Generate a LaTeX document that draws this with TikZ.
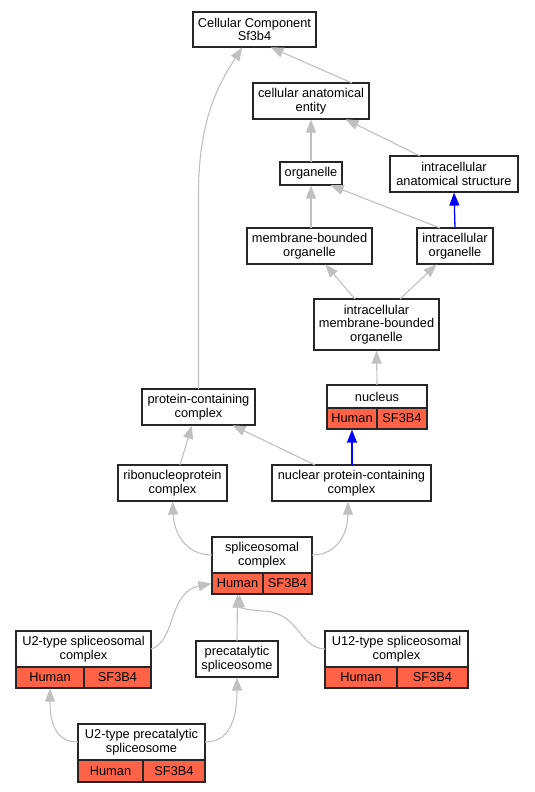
\documentclass[tikz,border=0pt]{standalone}
\usepackage{fontspec}
\setmainfont{Liberation Sans}
\usetikzlibrary{arrows.meta,positioning}
\definecolor{isagray}{HTML}{C0C0C0}
\definecolor{genered}{HTML}{FF6347}
\tikzset{
    term/.style={draw=black!85, line width=1.2pt, fill=white, align=center,
    	inner sep=0pt, outer sep=0pt, font=\fontsize{12.8}{13.5}\selectfont},
    gene/.style={term, fill=genered, minimum height=21pt, anchor=north west}
}
\tikzset{
    isa/.style={draw=isagray, line width=1.1pt, shorten >=0.6pt,
    	-{Triangle[length=13pt,width=10pt,fill=isagray]}},
    partof/.style={draw=blue, line width=1.3pt, shorten >=0.6pt,
    	-{Triangle[length=13pt,width=10pt,fill=blue]}}
}

\begin{document}
\begin{tikzpicture}[x=1pt,y=-1pt]
	\useasboundingbox (0,0) rectangle (535,792);
	\node[term, minimum width=123pt, minimum height=35pt] (cc) at (254.5,29.5) {Cellular Component\\Sf3b4};
	\node[term, minimum width=116pt, minimum height=36pt] (cae) at (311,101) {cellular anatomical\\entity};
	\node[term, minimum width=62pt, minimum height=23pt] (org) at (311,173.5) {organelle};
	\node[term, minimum width=128pt, minimum height=36pt] (ias) at (454,174) {intracellular\\anatomical structure};
	\node[term, minimum width=125pt, minimum height=36pt] (mbo) at (309.5,246) {membrane-bounded\\organelle};
	\node[term, minimum width=76pt, minimum height=36pt] (io) at (455,246) {intracellular\\organelle};
	\node[term, minimum width=125pt, minimum height=51pt] (imbo) at (376.5,324.5) {intracellular\\membrane-bounded\\organelle};
	\node[term, minimum width=100pt, minimum height=23pt] (nuc) at (377,396.5) {nucleus};
	\node[gene, minimum width=50pt] (nucH) at (nuc.south west) {Human};
	\node[gene, minimum width=50pt] (nucS) at (nucH.north east) {SF3B4};
	\node[term, minimum width=113pt, minimum height=36pt] (pcc) at (198.5,407) {protein-containing\\complex};
	\node[term, minimum width=109pt, minimum height=36pt] (rnp) at (172.5,483) {ribonucleoprotein\\complex};
	\node[term, minimum width=159pt, minimum height=36pt] (npc) at (351.5,483) {nuclear protein-containing\\complex};
	\node[term, minimum width=100pt, minimum height=36pt] (spl) at (262,555) {spliceosomal\\complex};
	\node[gene, minimum width=51pt] (splH) at (spl.south west) {Human};
	\node[gene, minimum width=49pt] (splS) at (splH.north east) {SF3B4};
	\node[term, minimum width=135pt, minimum height=36pt] (u2s) at (83.5,649) {U2-type spliceosomal\\complex};
	\node[gene, minimum width=68pt] (u2sH) at (u2s.south west) {Human};
	\node[gene, minimum width=67pt] (u2sS) at (u2sH.north east) {SF3B4};
	\node[term, minimum width=82pt, minimum height=36pt] (pre) at (237,659) {precatalytic\\spliceosome};
	\node[term, minimum width=143pt, minimum height=36pt] (u12) at (396.5,649) {U12-type spliceosomal\\complex};
	\node[gene, minimum width=72pt] (u12H) at (u12.south west) {Human};
	\node[gene, minimum width=71pt] (u12S) at (u12H.north east) {SF3B4};
	\node[term, minimum width=127pt, minimum height=36pt] (u2p) at (141.5,742) {U2-type precatalytic\\spliceosome};
	\node[gene, minimum width=65pt, minimum height=22pt] (u2pH) at (u2p.south west) {Human};
	\node[gene, minimum width=62pt, minimum height=22pt] (u2pS) at (u2pH.north east) {SF3B4};
	\draw[isa] ([xshift=41pt]cae.north) -- ([xshift=15.5pt]cc.south);
	\draw[isa] (pcc.north) -- (198.5,195) .. controls (198.5,120) and (218,85) .. ([xshift=-12pt]cc.south);
	\draw[isa] (org.north) -- (cae.south);
	\draw[isa] ([xshift=-34pt]ias.north) -- ([xshift=34pt]cae.south);
	\draw[isa] (org.south |- mbo.north) -- (org.south);
	\draw[isa] ([xshift=-15pt]io.north) -- ([xshift=19pt]org.south);
	\draw[partof] (io.north) -- (ias.south);
	\draw[isa] ([xshift=-21.5pt]imbo.north) -- ([xshift=15.5pt]mbo.south);
	\draw[isa] ([xshift=23.5pt]imbo.north) -- ([xshift=-18pt]io.south);
	\draw[isa] (nuc.north) -- (imbo.south);
	\draw[isa] ([xshift=7.5pt]rnp.north) -- ([xshift=-6.5pt]pcc.south);
	\draw[isa] ([xshift=-36.5pt]npc.north) -- ([xshift=33.5pt]pcc.south);
	\draw[partof] (npc.north -| nucH.south) -- (nucH.south);
	\draw[isa] (spl.west) .. controls (185,555) and (174,532) .. (rnp.south);
	\draw[isa] (spl.east) .. controls (338,555) and (348,532) .. ([xshift=-3.5pt]npc.south);
	\draw[isa] (u2s.east) .. controls (176,642) and (168,592) .. (splH.west);
	\draw[isa] (pre.north) -- (splH.south);
	\draw[isa] (u12.west) .. controls (298,648) and (300,612) .. (262,611)
		.. controls (248,610) and (240,608) .. ([xshift=2pt]splH.south);
	\draw[isa] (u2p.west) .. controls (55,742) and (50,722) .. (u2sH.south);
	\draw[isa] (u2p.east) .. controls (228,742) and (237,722) .. (pre.south);
\end{tikzpicture}
\end{document}
